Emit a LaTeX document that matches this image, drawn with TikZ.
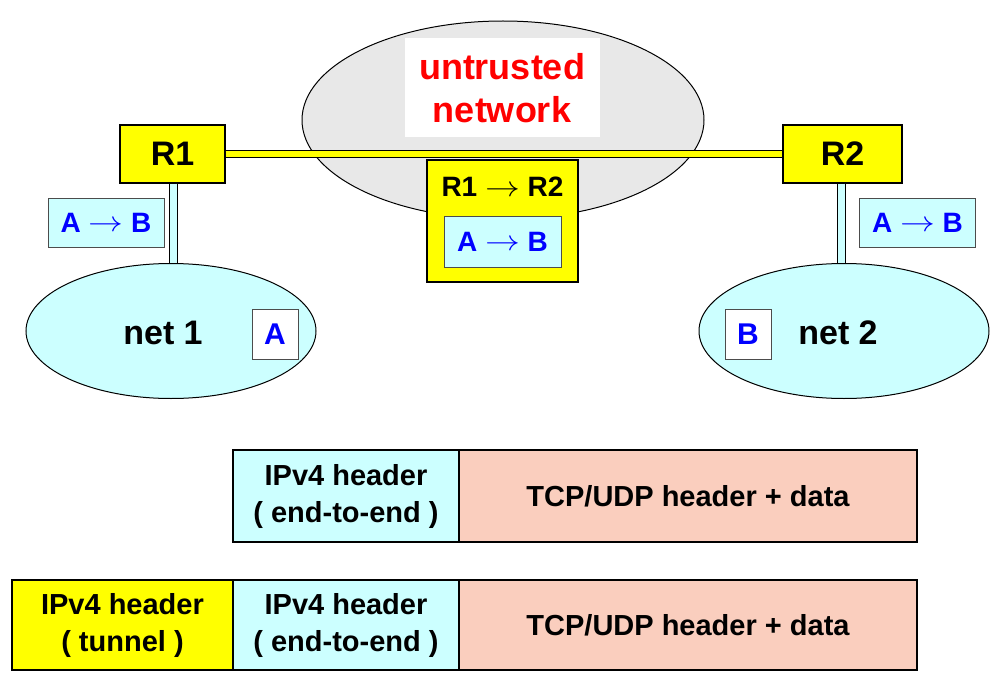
\documentclass[tikz,border=0pt]{standalone}
\usepackage{fontspec}
\usepackage{graphicx}
\setmainfont{Liberation Sans}
\usetikzlibrary{shapes.geometric}
\definecolor{ylw}{RGB}{255,255,0}
\definecolor{lcyan}{RGB}{204,255,255}
\definecolor{salmon}{RGB}{250,206,190}
\definecolor{lgray}{RGB}{232,232,232}
\definecolor{bblue}{RGB}{0,0,255}
\definecolor{rred}{RGB}{255,0,0}
\newcommand{\fs}[1]{\fontsize{#1}{#1}\selectfont\bfseries}
\newcommand{\toarr}{\ \raisebox{0.5pt}{\scalebox{1.4}[1.15]{$\rightarrow$}}\ }
\tikzset{
  router/.style={draw=black, line width=1.2pt, fill=ylw, minimum width=#1, minimum height=58pt, inner sep=0pt, font=\fs{34}},
  pkt/.style={draw=black!70, line width=1pt, fill=lcyan, minimum width=116pt, minimum height=49pt, inner sep=0pt, text=bblue, font=\fs{28}},
  net/.style={ellipse, draw=black, line width=1pt, fill=lcyan, minimum width=290pt, minimum height=135pt, inner sep=0pt},
  host/.style={draw=black!70, line width=1pt, fill=white, minimum width=46pt, minimum height=50pt, inner sep=0pt, text=bblue, font=\fs{30}},
  hdr/.style={draw=black, line width=1.2pt, minimum height=#1, inner sep=0pt, align=center, font=\fs{29}},
  tunnel/.style={draw=black, line width=1pt, double=ylw, double distance=6pt},
  bar/.style={draw=black, line width=1pt, double=lcyan, double distance=7pt}
}
\begin{document}
\begin{tikzpicture}[x=1pt,y=-1pt]
\useasboundingbox (0,0) rectangle (1004,682);
% untrusted network
\node[ellipse, draw=black, line width=1pt, fill=lgray, minimum width=402pt, minimum height=198pt, inner sep=0pt] (cloud) at (503,120) {};
\node[fill=white, minimum width=195pt, minimum height=99pt, inner sep=0pt, align=center, text=rred, font=\fs{36}] (cloudlbl) at (502,88) {untrusted\\[7pt]network};
% routers
\node[router=105pt] (R1) at (172.5,154) {R1};
\node[router=119pt] (R2) at (842.5,154) {R2};
\draw[tunnel] (R1.east) -- (R2.west);
% tunneled packet
\node[draw=black, line width=1.2pt, fill=ylw, minimum width=151pt, minimum height=122pt, inner sep=0pt] (tpkt) at (502.5,221) {};
\node[font=\fs{28}] (tlbl) at (502.5,187) {R1\toarr R2};
\node[pkt, minimum width=117pt, minimum height=51pt] (ipkt) at (502.5,241.5) {A\toarr B};
% nets
\node[net] (net1) at (171,331) {};
\node[font=\fs{34}] (net1lbl) at (163,333) {net 1};
\node[host] (A) at (275,334) {A};
\node[net] (net2) at (844,331) {};
\node[font=\fs{34}] (net2lbl) at (838,333) {net 2};
\node[host] (B) at (748,334) {B};
% access links
\draw[bar] (173.5,183.5) coordinate (r1b) -- (r1b |- net1.north);
\draw[bar] (841,183.5) coordinate (r2b) -- (r2b |- net2.north);
% local packets
\node[pkt] (p1) at (106,222.5) {A\toarr B};
\node[pkt] (p2) at (917.5,222.5) {A\toarr B};
% headers row 1
\node[hdr=92pt, fill=lcyan, minimum width=226pt] (h1a) at (346,496) {IPv4 header\\[8pt]( end-to-end )};
\node[hdr=92pt, fill=salmon, minimum width=458pt] (h1b) at (688,496) {TCP/UDP header + data};
% headers row 2
\node[hdr=90pt, fill=ylw, minimum width=221pt] (h2t) at (122.5,625) {IPv4 header\\[8pt]( tunnel )};
\node[hdr=90pt, fill=lcyan, minimum width=226pt] (h2a) at (346,625) {IPv4 header\\[8pt]( end-to-end )};
\node[hdr=90pt, fill=salmon, minimum width=458pt] (h2b) at (688,625) {TCP/UDP header + data};
\end{tikzpicture}
\end{document}
